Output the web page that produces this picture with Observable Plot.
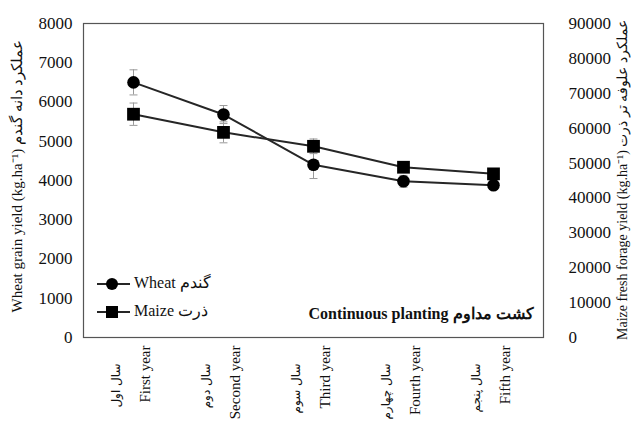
<!DOCTYPE html>
<html><head><meta charset="utf-8">
<script src="https://cdn.jsdelivr.net/npm/d3@7"></script>
<script src="https://cdn.jsdelivr.net/npm/@observablehq/plot@0.6"></script>
<style>
body{margin:0;background:#fff;}
#chart svg{font-family:"Liberation Serif","Times New Roman",serif;background:#fff;}
</style></head><body><div id="chart"></div>
<script>
// ---- data ----
const years = ["First year", "Second year", "Third year", "Fourth year", "Fifth year"];
const yearsFa = ["سال اول", "سال دوم", "سال سوم", "سال چهارم", "سال پنجم"];
const wheat = [6500, 5680, 4400, 3980, 3880];
const wheatErr = [320, 230, 350, 150, 100];
const maize = [64000, 58800, 54800, 48800, 46900];
const maizeErr = [3200, 3000, 2100, 1200, 800];
const leftTicks = [0, 1000, 2000, 3000, 4000, 5000, 6000, 7000, 8000];
const rightTicks = [0, 10000, 20000, 30000, 40000, 50000, 60000, 70000, 80000, 90000];
const leftTitle = "Wheat grain yield (kg.ha\u207B\u00B9) عملکرد دانه گندم";
const rightTitle = "Maize fresh forage yield (kg.ha\u207B\u00B9) عملکرد علوفه تر ذرت";
const legendLabels = ["Wheat گندم", "Maize ذرت"];
const note = "Continuous planting کشت مداوم";

const leftMax = 8000, rightMax = 90000;
const k = leftMax / rightMax;

const rows = years.map((y, i) => ({
  year: y, fa: yearsFa[i],
  wheat: wheat[i], wLo: wheat[i] - wheatErr[i], wHi: wheat[i] + wheatErr[i],
  maize: maize[i] * k, mLo: (maize[i] - maizeErr[i]) * k, mHi: (maize[i] + maizeErr[i]) * k
}));

const cap = {draw(ctx, size) { const w = Math.sqrt(size) / 2; ctx.moveTo(-w, 0); ctx.lineTo(w, 0); }};
const errC = "#9a9a9a", lineC = "#262626";

const plot = Plot.plot({
  width: 631, height: 422,
  marginTop: 23, marginBottom: 85, marginLeft: 83, marginRight: 88,
  x: {type: "point", domain: years, padding: 0.55, axis: null},
  y: {domain: [0, leftMax]},
  marks: [
    Plot.ruleX(rows, {x: "year", y1: "wLo", y2: "wHi", stroke: errC, strokeWidth: 1}),
    Plot.dot(rows, {x: "year", y: "wLo", symbol: cap, r: 4.5, stroke: errC, strokeWidth: 1}),
    Plot.dot(rows, {x: "year", y: "wHi", symbol: cap, r: 4.5, stroke: errC, strokeWidth: 1}),
    Plot.ruleX(rows, {x: "year", y1: "mLo", y2: "mHi", stroke: errC, strokeWidth: 1}),
    Plot.dot(rows, {x: "year", y: "mLo", symbol: cap, r: 4.5, stroke: errC, strokeWidth: 1}),
    Plot.dot(rows, {x: "year", y: "mHi", symbol: cap, r: 4.5, stroke: errC, strokeWidth: 1}),
    Plot.line(rows, {x: "year", y: "wheat", stroke: lineC, strokeWidth: 2}),
    Plot.line(rows, {x: "year", y: "maize", stroke: lineC, strokeWidth: 2}),
    Plot.dot(rows, {x: "year", y: "wheat", symbol: "circle", r: 6.3, fill: "#000", stroke: "none"}),
    Plot.dot(rows, {x: "year", y: "maize", symbol: "square", r: 7.2, fill: "#000", stroke: "none"}),
    Plot.frame({stroke: "#555", strokeWidth: 1.2}),
    Plot.axisY(leftTicks, {anchor: "left", tickSize: 0, tickPadding: 11, fontSize: 17, label: null, fill: "#111",
      tickFormat: d => String(d)}),
    Plot.axisY(rightTicks.map(v => v * k), {anchor: "right", tickSize: 0, tickPadding: 25, fontSize: 17, label: null, fill: "#111",
      tickFormat: d => String(Math.round(d / k))}),
    Plot.text(rows, {x: "year", text: "year", frameAnchor: "bottom", rotate: -90, textAnchor: "end", dy: 8, dx: 16, fontSize: 15, fill: "#111"}),
    Plot.text(rows, {x: "year", text: "fa", frameAnchor: "bottom", rotate: -90, textAnchor: "end", dy: 26, dx: -14, fontSize: 12, fill: "#111", fontFamily: "DejaVu Sans"}),
    Plot.text([note], {frameAnchor: "bottom-right", dx: -10, dy: -19, fontWeight: "bold", fontSize: 16, fill: "#111"})
  ]
});

const svg = d3.select(plot);
// axis titles
svg.append("text").attr("transform", "translate(19,176) rotate(-90)")
  .attr("text-anchor", "middle").attr("dominant-baseline", "middle")
  .attr("font-size", 15).attr("fill", "#111").text(leftTitle);
svg.append("text").attr("transform", "translate(624,180) rotate(-90)")
  .attr("text-anchor", "middle").attr("dominant-baseline", "middle")
  .attr("font-size", 14).attr("fill", "#111").text(rightTitle);
// legend
const lg = svg.append("g");
[["circle", 284], ["square", 312]].forEach(([sym, yy], i) => {
  lg.append("line").attr("x1", 97).attr("x2", 130).attr("y1", yy).attr("y2", yy)
    .attr("stroke", lineC).attr("stroke-width", 2);
  if (sym === "circle") lg.append("circle").attr("cx", 112).attr("cy", yy).attr("r", 6).attr("fill", "#000");
  else lg.append("rect").attr("x", 106).attr("y", yy - 6).attr("width", 12).attr("height", 12).attr("fill", "#000");
  lg.append("text").attr("x", 134).attr("y", yy).attr("dominant-baseline", "middle")
    .attr("text-anchor", "start").attr("font-size", 16).attr("fill", "#111").text(legendLabels[i]);
});
document.getElementById("chart").appendChild(plot);
</script></body></html>
